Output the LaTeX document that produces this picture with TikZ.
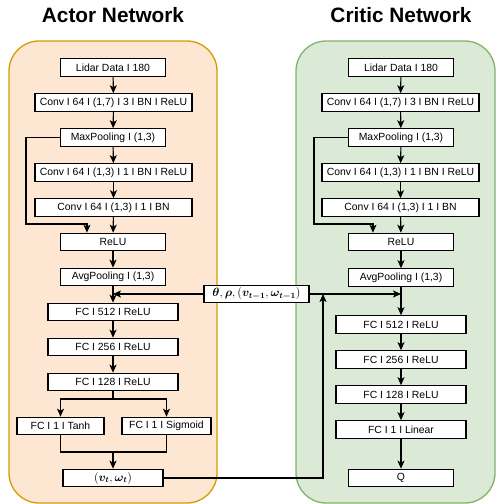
\documentclass[tikz,border=0pt]{standalone}
\usepackage{amsmath}
\usepackage{fontspec}
\setmainfont{Liberation Sans}
\usetikzlibrary{arrows.meta}

\definecolor{actorfill}{HTML}{FDE7D3}
\definecolor{actorline}{HTML}{D79B00}
\definecolor{criticfill}{HTML}{DAEAD7}
\definecolor{criticline}{HTML}{82B366}

\tikzset{
  layer/.style={draw, fill=white, line width=1.1pt, minimum width=#1, minimum height=17.5pt,
    inner sep=0pt, font=\fontsize{10.4}{12}\selectfont},
  layer/.default=105pt,
  net/.style={line width=1.3pt, rounded corners=30pt},
  title/.style={font=\fontsize{20.8}{24}\selectfont\bfseries},
  wire/.style={line width=1.1pt, -{Stealth[length=8pt,width=7pt,inset=2pt]}},
  joint/.style={line width=1.1pt}
}

\begin{document}
\begin{tikzpicture}[x=1pt,y=-1pt]
\useasboundingbox (0,0) rectangle (496,504);

% the two networks
\path[net, draw=actorline, fill=actorfill] (9,41) rectangle (217,503);
\path[net, draw=criticline, fill=criticfill] (296,41) rectangle (495,503);
\node[title] (atitle) at (113,15) {Actor Network};
\node[title] (ctitle) at (401,15) {Critic Network};

% actor
\node[layer] (alidar) at (113,67.5) {Lidar Data I 180};
\node[layer=157pt] (aconv1) at (113.5,102.5) {Conv I 64 I (1,7) I 3 I BN I ReLU};
\node[layer] (amax) at (113,137.5) {MaxPooling I (1,3)};
\node[layer=157pt] (aconv2) at (113.5,172.5) {Conv I 64 I (1,3) I 1 I BN I ReLU};
\node[layer=157pt] (aconv3) at (113.5,207.5) {Conv I 64 I (1,3) I 1 I BN};
\node[layer] (arelu) at (113,242) {ReLU};
\node[layer] (aavg) at (113,277) {AvgPooling I (1,3)};
\node[layer=130pt] (afc512) at (113,312) {FC I 512 I ReLU};
\node[layer=130pt] (afc256) at (113,347) {FC I 256 I ReLU};
\node[layer=130pt] (afc128) at (113,382) {FC I 128 I ReLU};
\node[layer=87pt] (atanh) at (60.5,426) {FC I 1 I Tanh};
\node[layer=89pt] (asig) at (166.5,426) {FC I 1 I Sigmoid};
\node[layer=100pt, font=\fontsize{11.5}{13}\selectfont] (aout) at (113,478)
  {$(\boldsymbol{v_t},\boldsymbol{\omega_t})$};

% critic
\node[layer] (clidar) at (401,67.5) {Lidar Data I 180};
\node[layer=157pt] (cconv1) at (400.5,102.5) {Conv I 64 I (1,7) I 3 I BN I ReLU};
\node[layer] (cmax) at (401,137.5) {MaxPooling I (1,3)};
\node[layer=157pt] (cconv2) at (400.5,172.5) {Conv I 64 I (1,3) I 1 I BN I ReLU};
\node[layer=157pt] (cconv3) at (400.5,207.5) {Conv I 64 I (1,3) I 1 I BN};
\node[layer] (crelu) at (401,242) {ReLU};
\node[layer] (cavg) at (401,277.5) {AvgPooling I (1,3)};
\node[layer=130pt] (cfc512) at (401,324.5) {FC I 512 I ReLU};
\node[layer=130pt] (cfc256) at (401,359.5) {FC I 256 I ReLU};
\node[layer=130pt] (cfc128) at (401,394.5) {FC I 128 I ReLU};
\node[layer=130pt] (clin) at (401,429.5) {FC I 1 I Linear};
\node[layer] (cq) at (401,478) {Q};

% state fed to both
\node[layer=105pt, font=\fontsize{11.5}{13}\selectfont] (state) at (256.5,294)
  {$\boldsymbol{\theta},\boldsymbol{\rho},(\boldsymbol{v_{t-1}},\boldsymbol{\omega_{t-1}})$};

\coordinate (aturn) at (26,224);
\coordinate (cturn) at (314,224);
\coordinate (asplit) at (113,399);
\coordinate (ajoin) at (113,452);
\coordinate (cin) at (323,294);

\path[draw,wire] (alidar) -- (aconv1);
\path[draw,wire] (aconv1) -- (amax);
\path[draw,wire] (amax) -- (aconv2);
\path[draw,wire] (aconv2) -- (aconv3);
\path[draw,wire] (aconv3) -- (arelu);
\path[draw,wire] (arelu) -- (aavg);
\path[draw,wire] (aavg) -- (afc512);
\path[draw,wire] (afc512) -- (afc256);
\path[draw,wire] (afc256) -- (afc128);
\path[draw,wire] (amax.west) -| (aturn) -| ([xshift=27pt]arelu.north west);
\path[draw,wire] (afc128.south) -- (asplit) -| (atanh.north);
\path[draw,wire] (asplit) -| (asig.north);
\path[draw,joint] (atanh.south) |- (ajoin) -| (asig.south);
\path[draw,wire] (ajoin) -- (aout.north);

\path[draw,wire] (clidar) -- (cconv1);
\path[draw,wire] (cconv1) -- (cmax);
\path[draw,wire] (cmax) -- (cconv2);
\path[draw,wire] (cconv2) -- (cconv3);
\path[draw,wire] (cconv3) -- (crelu);
\path[draw,wire] (crelu) -- (cavg);
\path[draw,wire] (cavg) -- (cfc512);
\path[draw,wire] (cfc512) -- (cfc256);
\path[draw,wire] (cfc256) -- (cfc128);
\path[draw,wire] (cfc128) -- (clin);
\path[draw,wire] (clin) -- (cq);
\path[draw,wire] (cmax.west) -| (cturn) -| ([xshift=25pt]crelu.north west);

\path[draw,wire] (state.west) -- (state.west -| afc512.north);
\path[draw,wire] (state.east) -- (state.east -| cfc512.north);
\path[draw,wire] (aout.east) -| (cin);
\end{tikzpicture}
\end{document}
